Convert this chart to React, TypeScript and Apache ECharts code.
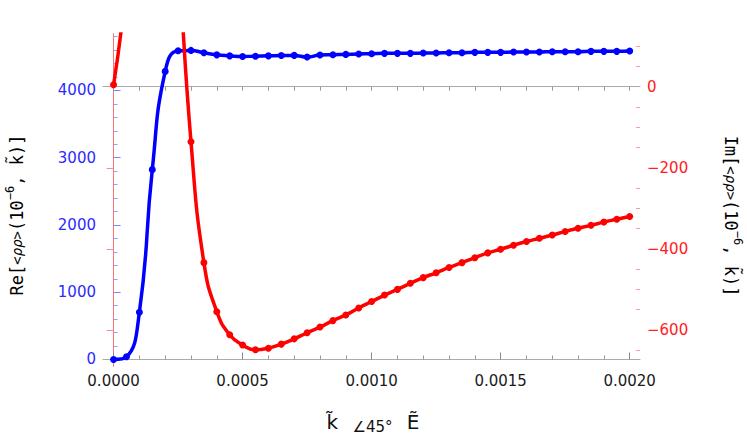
import React, { useEffect, useRef } from "react";
import * as echarts from "echarts";

const K = [
  0, 0.00005, 0.0001, 0.00015, 0.0002, 0.00025, 0.0003, 0.00035, 0.0004, 0.00045,
  0.0005, 0.00055, 0.0006, 0.00065, 0.0007, 0.00075, 0.0008, 0.00085, 0.0009, 0.00095,
  0.001, 0.00105, 0.0011, 0.00115, 0.0012, 0.00125, 0.0013, 0.00135, 0.0014, 0.00145,
  0.0015, 0.00155, 0.0016, 0.00165, 0.0017, 0.00175, 0.0018, 0.00185, 0.0019, 0.00195,
  0.002,
];

const RE = [
  0, 40, 703, 2823, 4284, 4591, 4596, 4560, 4530, 4515,
  4505, 4510, 4515, 4520, 4522, 4497, 4527, 4532, 4537, 4542,
  4547, 4552, 4552, 4552, 4557, 4557, 4562, 4562, 4567, 4567,
  4567, 4572, 4572, 4572, 4577, 4577, 4577, 4582, 4582, 4582,
  4587,
];

const IM = [
  5, 270, 800, 1000, 750, 330, -136, -434, -555, -612,
  -637, -649, -645, -635, -622, -607, -593, -577, -563, -546,
  -530, -514, -500, -485, -471, -459, -446, -434, -422, -410,
  -401, -391, -382, -374, -366, -357, -349, -342, -334, -327,
  -320,
];

const X_MAJOR = [0, 0.0005, 0.001, 0.0015, 0.002];
const X_MINOR = [
  0.0001, 0.0002, 0.0003, 0.0004, 0.0006, 0.0007, 0.0008, 0.0009,
  0.0011, 0.0012, 0.0013, 0.0014, 0.0016, 0.0017, 0.0018, 0.0019,
];
const YL_MAJOR = [0, 1000, 2000, 3000, 4000];
const YL_MINOR = [
  200, 400, 600, 800, 1200, 1400, 1600, 1800, 2200, 2400, 2600, 2800,
  3200, 3400, 3600, 3800, 4200, 4400, 4600, 4800,
];
const YR_MAJOR = [-600, -400, -200, 0];
const YR_MINOR = [-650, -550, -500, -450, -350, -300, -250, -150, -100, -50, 50, 100];

const X_MIN = -0.000041;
const X_MAX = 0.00204;
const YL_MIN = -97;
const YL_MAX = 4840;
const YR_MIN = -689;
const YR_MAX = 130;

const BLUE = "#0000ff";
const RED = "#ff0000";
const FONT = "DejaVu Sans";
const MONO = "DejaVu Sans Mono";

export default function App() {
  const ref = useRef<HTMLDivElement>(null);

  useEffect(() => {
    if (!ref.current) return;
    const chart = echarts.init(ref.current, undefined, { renderer: "svg" });

    const grid = { left: 103, right: 107, top: 34, bottom: 75 };

    const xBase = (extra: any) => ({
      type: "value",
      min: X_MIN,
      max: X_MAX,
      splitLine: { show: false },
      ...extra,
    });

    const titleRich = {
      n: { fontFamily: MONO, fontSize: 17, lineHeight: 26, verticalAlign: "middle", fill: "#000" },
      b: { fontFamily: MONO, fontSize: 14, lineHeight: 26, verticalAlign: "middle", fill: "#000" },
      i: { fontFamily: MONO, fontStyle: "italic", fontSize: 14, lineHeight: 26, verticalAlign: "middle", fill: "#000" },
      s: { fontFamily: MONO, fontSize: 12, lineHeight: 12, verticalAlign: "top", fill: "#000" },
    };

    const option: any = {
      animation: false,
      grid,
      xAxis: [
        xBase({
          position: "bottom",
          axisLine: { show: true, lineStyle: { color: "#aaaaaa", width: 1 } },
          axisTick: { show: true, inside: true, length: 7, customValues: X_MAJOR, lineStyle: { color: "#888888" } },
          axisLabel: {
            show: true,
            customValues: X_MAJOR,
            formatter: (v: number) => v.toFixed(4),
            color: "#1a1a1a",
            fontSize: 15,
            fontFamily: FONT,
            margin: 7,
          },
        }),
        xBase({
          position: "bottom",
          axisLine: { show: false },
          axisTick: { show: true, inside: true, length: 4, customValues: X_MINOR, lineStyle: { color: "#999999" } },
          axisLabel: { show: false },
        }),
        xBase({
          position: "top",
          axisLine: { show: true, lineStyle: { color: "#aaaaaa", width: 1 } },
          axisTick: { show: true, inside: true, length: 4, customValues: [...X_MAJOR, ...X_MINOR], lineStyle: { color: "#999999" } },
          axisLabel: { show: false },
        }),
      ],
      yAxis: [
        {
          type: "value",
          position: "left",
          min: YL_MIN,
          max: YL_MAX,
          splitLine: { show: false },
          axisLine: { show: true, lineStyle: { color: "#8080ff", width: 1 } },
          axisTick: { show: true, inside: true, length: 7, customValues: YL_MAJOR, lineStyle: { color: "#8080ff" } },
          axisLabel: {
            show: true,
            customValues: YL_MAJOR,
            formatter: (v: number) => String(v),
            color: "#2b2bff",
            fontSize: 15,
            fontFamily: FONT,
            margin: 7,
          },
        },
        {
          type: "value",
          position: "left",
          min: YL_MIN,
          max: YL_MAX,
          splitLine: { show: false },
          axisLine: { show: false },
          axisTick: { show: true, inside: true, length: 4, customValues: YL_MINOR, lineStyle: { color: "#9a9aff" } },
          axisLabel: { show: false },
        },
        {
          type: "value",
          position: "right",
          min: YR_MIN,
          max: YR_MAX,
          splitLine: { show: false },
          axisLine: { show: true, lineStyle: { color: "#ff7070", width: 1 } },
          axisTick: { show: true, inside: true, length: 7, customValues: YR_MAJOR, lineStyle: { color: "#ff8a8a" } },
          axisLabel: {
            show: true,
            customValues: YR_MAJOR,
            formatter: (v: number) => (v < 0 ? "\u2212" + Math.abs(v) : String(v)),
            color: "#ff2020",
            fontSize: 15,
            fontFamily: FONT,
            margin: 7,
          },
        },
        {
          type: "value",
          position: "right",
          min: YR_MIN,
          max: YR_MAX,
          splitLine: { show: false },
          axisLine: { show: false },
          axisTick: { show: true, inside: true, length: 4, customValues: YR_MINOR, lineStyle: { color: "#ff9a9a" } },
          axisLabel: { show: false },
        },
      ],
      series: [
        {
          name: "Re",
          type: "line",
          xAxisIndex: 0,
          yAxisIndex: 0,
          data: K.map((k, i) => [k, RE[i]]),
          smooth: 0.5,
          symbol: "circle",
          symbolSize: 7,
          showSymbol: true,
          clip: true,
          lineStyle: { color: BLUE, width: 3.5 },
          itemStyle: { color: BLUE },
          z: 2,
        },
        {
          name: "Im",
          type: "line",
          xAxisIndex: 0,
          yAxisIndex: 2,
          data: K.map((k, i) => [k, IM[i]]),
          smooth: 0.5,
          symbol: "circle",
          symbolSize: 7,
          showSymbol: true,
          clip: true,
          lineStyle: { color: RED, width: 3.5 },
          itemStyle: { color: RED },
          z: 3,
        },
      ],
      graphic: [
        {
          type: "text",
          x: 17,
          y: 215,
          rotation: Math.PI / 2,
          style: {
            text: "{n|Re[}{b|<}{i|ρρ}{b|>}{n|(10}{s|−6}{n|, k\u0303)]}",
            rich: titleRich,
            align: "center",
            verticalAlign: "middle",
          },
        },
        {
          type: "text",
          x: 731,
          y: 216,
          rotation: -Math.PI / 2,
          style: {
            text: "{n|Im[}{b|<}{i|ρρ}{b|>}{n|(10}{s|−6}{n|, k\u0303)]}",
            rich: titleRich,
            align: "center",
            verticalAlign: "middle",
          },
        },
        {
          type: "text",
          x: 373,
          y: 422,
          style: {
            text: "{a|k\u0303}{g|   ∠45°   }{a|E\u0303}",
            rich: {
              a: { fontFamily: FONT, fontSize: 20, lineHeight: 24, verticalAlign: "middle", fill: "#111" },
              g: { fontFamily: FONT, fontSize: 15, lineHeight: 24, verticalAlign: "bottom", fill: "#111" },
            },
            align: "center",
            verticalAlign: "middle",
          },
        },
      ],
    };

    chart.setOption(option);
    return () => chart.dispose();
  }, []);

  return (
    <div
      ref={ref}
      style={{ position: "fixed", left: 0, top: 0, width: 747, height: 441, background: "#ffffff" }}
    />
  );
}
